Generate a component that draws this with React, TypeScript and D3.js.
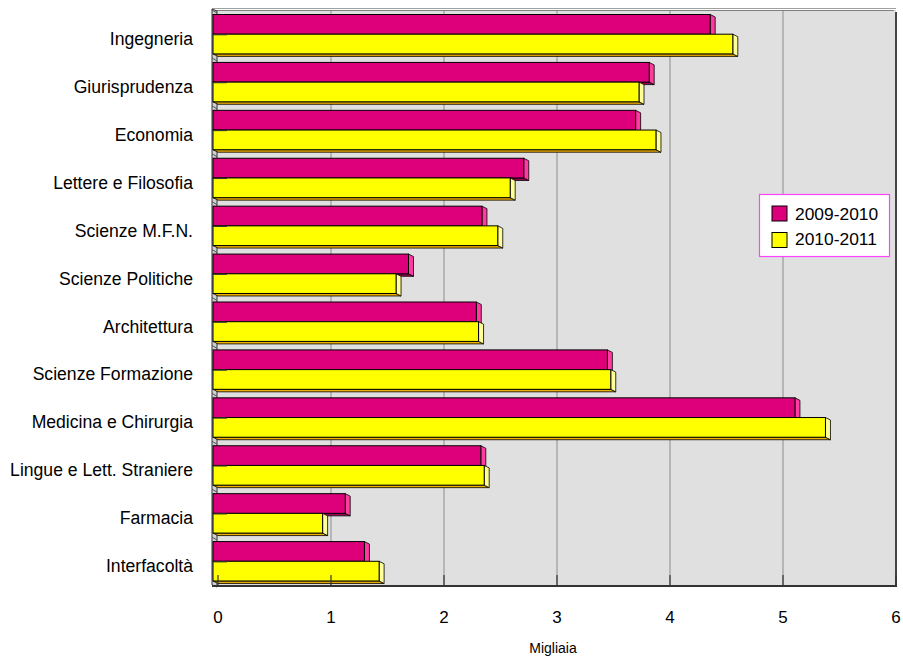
import React from "react";
import * as d3 from "d3";

const categories = [
  "Ingegneria",
  "Giurisprudenza",
  "Economia",
  "Lettere e Filosofia",
  "Scienze M.F.N.",
  "Scienze Politiche",
  "Architettura",
  "Scienze Formazione",
  "Medicina e Chirurgia",
  "Lingue e Lett. Straniere",
  "Farmacia",
  "Interfacoltà",
];
const series2009 = [4.4, 3.86, 3.74, 2.75, 2.38, 1.73, 2.33, 3.49, 5.15, 2.37, 1.17, 1.34];
const series2010 = [4.6, 3.77, 3.92, 2.63, 2.52, 1.62, 2.35, 3.52, 5.42, 2.4, 0.97, 1.47];
const xTicks = [0, 1, 2, 3, 4, 5, 6];
const seriesNames = ["2009-2010", "2010-2011"];

const W = 903;
const H = 658;
const FONT = "'Liberation Sans', Arial, sans-serif";

const MAG = { front: "#de007a", side: "#ff3aa0", bottom: "#9c0056" };
const YEL = { front: "#ffff00", side: "#ffff99", bottom: "#f0b000" };

export default function App() {
  const x = d3.scaleLinear().domain([0, 6]).range([218, 896]);
  const y = d3.scaleBand<string>().domain(categories).range([10, 585]).padding(0);
  const bw = y.bandwidth();
  const DX = 5;
  const DY = 2.5;
  const x0 = x(0) - DX;

  const bar = (v: number, top: number, h: number, c: typeof MAG, key: string) => {
    const x1 = x(v) - DX;
    const side = `${x1},${top} ${x1 + DX},${top + DY} ${x1 + DX},${top + h + DY} ${x1},${top + h}`;
    const bottom = `${x0},${top + h} ${x1},${top + h} ${x1 + DX},${top + h + DY} ${x0 + DX},${top + h + DY}`;
    return (
      <g key={key}>
        <polygon points={bottom} fill={c.bottom} stroke="#000" strokeWidth={0.8} strokeLinejoin="round" />
        <polygon points={side} fill={c.side} stroke="#000" strokeWidth={0.8} strokeLinejoin="round" />
        <rect x={x0} y={top} width={x1 - x0} height={h} fill={c.front} stroke="#000" strokeWidth={1} />
      </g>
    );
  };

  return (
    <svg width={W} height={H} style={{ display: "block", position: "absolute", left: 0, top: 0 }} fontFamily={FONT}>
      <rect x={0} y={0} width={W} height={H} fill="#fff" />
      {/* back wall */}
      <rect x={217} y={10} width={679} height={576} fill="#e0e0e0" />
      <line x1={212} x2={896} y1={8.5} y2={8.5} stroke="#a0a0a0" strokeWidth={1} />
      <line x1={214} x2={894} y1={10.5} y2={10.5} stroke="#808080" strokeWidth={1} />
      {/* left wall */}
      <polygon points={`212,9 217,11 217,587 212,585`} fill="#d0d0d0" stroke="#333" strokeWidth={1} />
      {categories.map((c, i) => {
        const b = (y(c) as number);
        return (
          <line key={"sl" + i} x1={212} y1={b} x2={217} y2={b + 3} stroke="#555" strokeWidth={1} />
        );
      })}
      {/* gridlines */}
      {xTicks.slice(1, 6).map((t) => (
        <line key={"g" + t} x1={x(t)} x2={x(t)} y1={11} y2={585} stroke="#a8a8a8" strokeWidth={1.5} />
      ))}
      {/* bars */}
      {categories.map((c, i) => {
        const b = y(c) as number;
        const mTop = b + 4.5;
        const yTop = b + bw * 0.505;
        const h = yTop - mTop;
        return (
          <g key={"b" + i}>
            {bar(series2009[i], mTop, h, MAG, "m")}
            {bar(series2010[i], yTop, h, YEL, "y")}
            <line x1={x0} x2={x0 + 14} y1={yTop + 0.5} y2={yTop + 0.5} stroke="#333" strokeWidth={1.2} />
          </g>
        );
      })}
      {/* frame */}
      <line x1={896} x2={896} y1={12} y2={587} stroke="#444" strokeWidth={2} />
      <line x1={212} x2={897} y1={586} y2={586} stroke="#333" strokeWidth={2} />
      {/* ticks */}
      {xTicks.map((t) => (
        <line key={"t" + t} x1={x(t)} x2={x(t)} y1={575} y2={586} stroke="#333" strokeWidth={1.2} />
      ))}
      {xTicks.map((t) => (
        <text key={"tl" + t} x={x(t)} y={623} fontSize={17} textAnchor="middle" fill="#000">
          {t}
        </text>
      ))}
      <text x={553} y={653} fontSize={14} textAnchor="middle" fill="#000">
        Migliaia
      </text>
      {categories.map((c) => (
        <text key={"c" + c} x={193} y={(y(c) as number) + 35} fontSize={17.6} textAnchor="end" fill="#000">
          {c}
        </text>
      ))}
      {/* legend */}
      <rect x={759.5} y={194.5} width={130} height={62} fill="#fff" stroke="#ff44ff" strokeWidth={1.2} />
      {seriesNames.map((s, i) => (
        <g key={s}>
          <rect x={772} y={206 + i * 26.5} width={15} height={15} fill={i === 0 ? MAG.front : YEL.front} stroke="#000" strokeWidth={1} />
          <text x={795} y={220 + i * 25} fontSize={17.4} fill="#000">
            {s}
          </text>
        </g>
      ))}
    </svg>
  );
}
